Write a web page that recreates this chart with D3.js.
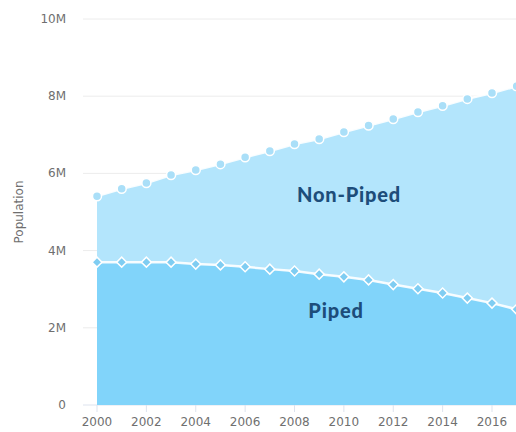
<!DOCTYPE html>
<html>
<head>
  <meta charset="utf-8">
  <script src="https://d3js.org/d3.v7.min.js"></script>
  <style>
    body { margin: 0; background: #fff; overflow: hidden; }
    .tick-label { font-family: 'DejaVu Sans', sans-serif; font-size: 12px; fill: #6f6f6f; }
    .series-label { font-family: 'Lato', sans-serif; font-weight: 900; font-size: 20px; letter-spacing: 0.8px; fill: #1d4d7a; }
  </style>
</head>
<body>
<div id="chart"></div>
<script>
  // values in millions
  const years = [2000, 2001, 2002, 2003, 2004, 2005, 2006, 2007, 2008, 2009,
    2010, 2011, 2012, 2013, 2014, 2015, 2016, 2017];
  const piped = [3.70, 3.70, 3.70, 3.70, 3.65, 3.63, 3.58, 3.52, 3.47, 3.39,
    3.32, 3.24, 3.12, 3.01, 2.90, 2.77, 2.64, 2.48];
  const nonPiped = [1.71, 1.90, 2.05, 2.26, 2.44, 2.61, 2.84, 3.06, 3.29, 3.50,
    3.75, 4.00, 4.29, 4.58, 4.85, 5.16, 5.44, 5.78];
  const yTicks = [0, 2, 4, 6, 8, 10];
  const yTickLabels = ['0', '2M', '4M', '6M', '8M', '10M'];
  const xTicks = [2000, 2002, 2004, 2006, 2008, 2010, 2012, 2014, 2016];

  const width = 516, height = 432;

  const svg = d3.select('#chart').append('svg')
    .attr('width', width)
    .attr('height', height);

  const x = d3.scaleLinear().domain([2000, 2016]).range([97, 492]);
  const y = d3.scaleLinear().domain([0, 10]).range([405, 19]);

  // grid lines
  svg.append('g').selectAll('line')
    .data(yTicks)
    .join('line')
    .attr('x1', 83).attr('x2', width)
    .attr('y1', d => y(d)).attr('y2', d => y(d))
    .attr('stroke', d => d === 0 ? '#dde3ee' : '#ececec')
    .attr('stroke-width', 1);

  svg.append('g').selectAll('text')
    .data(yTicks)
    .join('text')
    .attr('class', 'tick-label')
    .attr('x', 66)
    .attr('y', d => y(d) + 4)
    .attr('text-anchor', 'end')
    .text((d, i) => yTickLabels[i]);

  svg.append('text')
    .attr('class', 'tick-label')
    .attr('transform', 'translate(23,' + 212 + ') rotate(-90)')
    .attr('text-anchor', 'middle')
    .text('Population');

  const table = years.map((yr, i) => ({ year: yr, piped: piped[i], nonPiped: nonPiped[i] }));
  const series = d3.stack().keys(['piped', 'nonPiped'])(table);
  const colors = { piped: '#81d4fa', nonPiped: '#b3e5fc' };

  const area = d3.area()
    .x(d => x(d.data.year))
    .y0(d => y(d[0]))
    .y1(d => y(d[1]));

  svg.append('g').selectAll('path')
    .data(series)
    .join('path')
    .attr('d', area)
    .attr('fill', d => colors[d.key]);

  // x axis ticks
  svg.append('g').selectAll('line')
    .data(xTicks)
    .join('line')
    .attr('x1', d => x(d)).attr('x2', d => x(d))
    .attr('y1', y(0)).attr('y2', y(0) + 7)
    .attr('stroke', '#dde3ee');

  svg.append('g').selectAll('text')
    .data(xTicks)
    .join('text')
    .attr('class', 'tick-label')
    .attr('x', d => x(d))
    .attr('y', 426)
    .attr('text-anchor', 'middle')
    .text(d => d);

  const line = d3.line()
    .x(d => x(d.data.year))
    .y(d => y(d[1]));

  svg.append('g').selectAll('path')
    .data(series)
    .join('path')
    .attr('d', line)
    .attr('fill', 'none')
    .attr('stroke', '#fff')
    .attr('stroke-width', 2.5)
    .attr('opacity', 0.9);

  // piped: diamonds (rotated squares)
  svg.append('g').selectAll('path')
    .data(series[0])
    .join('path')
    .attr('d', d3.symbol(d3.symbolSquare, 50))
    .attr('transform', d => 'translate(' + x(d.data.year) + ',' + y(d[1]) + ') rotate(45)')
    .attr('fill', '#7fcdf2')
    .attr('stroke', '#fff')
    .attr('stroke-width', 1.5);

  // non-piped: circles
  svg.append('g').selectAll('circle')
    .data(series[1])
    .join('circle')
    .attr('cx', d => x(d.data.year))
    .attr('cy', d => y(d[1]))
    .attr('r', 4.5)
    .attr('fill', '#aadff8')
    .attr('stroke', '#fff')
    .attr('stroke-width', 1.5);

  svg.append('text')
    .attr('class', 'series-label')
    .attr('x', 349).attr('y', 202)
    .attr('text-anchor', 'middle')
    .text('Non-Piped');

  svg.append('text')
    .attr('class', 'series-label')
    .attr('x', 336).attr('y', 318)
    .attr('text-anchor', 'middle')
    .text('Piped');
</script>
</body>
</html>
